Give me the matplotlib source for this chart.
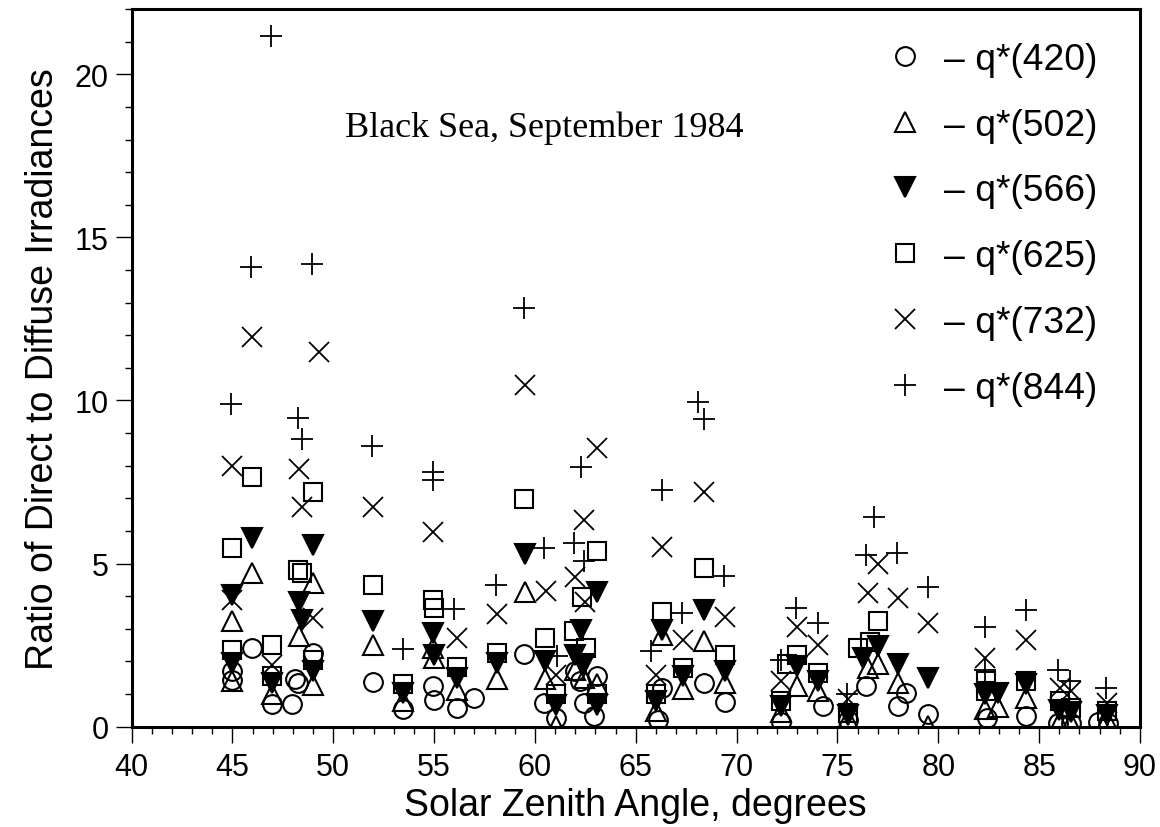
import matplotlib
matplotlib.use("Agg")
import matplotlib.pyplot as plt
from matplotlib.ticker import MultipleLocator

# ---- data (solar zenith angle, ratio) ----
x420 = [44.97, 44.97, 45.96, 46.95, 47.95, 48.11, 48.23, 48.97, 51.97, 53.46, 54.93, 54.98,
        56.11, 56.97, 59.45, 60.45, 61.03, 61.97, 62.24, 62.43, 63.07, 62.93, 66.08, 66.28,
        68.40, 69.44, 72.21, 74.28, 75.50, 76.43, 78.00, 78.42, 79.49, 82.44, 84.34, 85.95,
        86.60, 87.94, 88.40]
y420 = [1.70, 1.42, 2.42, 0.70, 0.70, 1.45, 1.35, 2.26, 1.37, 0.53, 1.24, 0.81,
        0.58, 0.87, 2.23, 0.73, 0.28, 1.70, 1.40, 0.73, 1.54, 0.32, 0.22, 1.19,
        1.35, 0.76, 0.15, 0.63, 0.20, 1.24, 0.63, 1.04, 0.38, 0.28, 0.32, 0.12,
        0.10, 0.15, 0.12]

x502 = [44.97, 44.97, 45.96, 46.95, 48.28, 48.97, 48.97, 51.97, 53.46, 54.93, 54.98,
        56.11, 58.13, 59.50, 60.50, 61.03, 61.97, 62.43, 63.07, 66.00, 66.28, 67.32,
        68.40, 69.44, 72.21, 72.99, 74.03, 75.50, 76.51, 77.01, 78.00, 79.49, 82.34,
        82.97, 84.34, 86.00, 86.60, 88.35]
y502 = [3.25, 1.40, 4.71, 0.99, 2.77, 4.40, 1.29, 2.52, 0.78, 2.42, 2.10,
        1.14, 1.45, 4.14, 1.45, 0.02, 1.75, 1.50, 1.30, 0.48, 2.82, 1.16,
        2.64, 1.35, 0.45, 1.24, 1.09, 0.25, 1.80, 1.91, 1.35, 0.02, 0.53,
        0.60, 0.89, 0.10, 0.10, 0.20]

x566 = [44.97, 44.97, 45.96, 46.95, 48.28, 48.47, 48.97, 48.97, 51.97, 53.46, 54.93, 54.98,
        56.11, 58.13, 59.50, 60.50, 61.03, 61.97, 62.27, 62.43, 63.10, 63.07, 66.00, 66.28,
        67.32, 68.40, 69.44, 72.21, 72.99, 74.03, 75.50, 76.26, 77.01, 78.00, 79.49, 82.34,
        82.97, 84.34, 86.00, 86.60, 88.35]
y566 = [4.05, 1.96, 5.80, 1.35, 3.83, 3.28, 5.58, 1.70, 3.25, 1.04, 2.87, 2.21,
        1.50, 1.96, 5.29, 2.01, 0.68, 2.21, 2.98, 1.91, 4.14, 0.68, 0.78, 2.98,
        1.54, 3.59, 1.72, 0.63, 1.85, 1.39, 0.35, 2.10, 2.46, 1.91, 1.50, 0.99,
        1.04, 1.30, 0.50, 0.45, 0.35]

x625 = [44.97, 44.97, 45.99, 46.95, 46.95, 48.23, 48.47, 48.97, 48.97, 51.97, 53.46, 54.93,
        54.98, 56.11, 58.13, 59.47, 60.50, 61.03, 61.94, 62.32, 62.52, 63.07, 63.07, 66.00,
        66.28, 67.32, 68.40, 69.44, 72.21, 72.50, 73.00, 74.03, 75.52, 76.02, 76.59, 77.01,
        82.39, 82.39, 84.34, 86.03, 86.58, 88.35]
y625 = [5.49, 2.36, 7.67, 2.52, 1.54, 4.79, 4.71, 7.20, 2.06, 4.35, 1.31, 3.89,
        3.63, 1.82, 2.26, 6.98, 2.72, 0.99, 2.92, 3.99, 2.42, 5.39, 0.99, 0.99,
        3.53, 1.80, 4.86, 2.21, 0.78, 1.91, 2.21, 1.65, 0.43, 2.42, 2.61, 3.23,
        1.39, 1.10, 1.39, 0.78, 0.58, 0.48]

x732 = [44.97, 44.97, 45.96, 46.95, 48.28, 48.47, 48.97, 49.30, 51.97, 54.93, 56.11, 58.13,
        59.50, 60.53, 61.03, 61.97, 62.43, 62.48, 63.10, 66.00, 66.28, 67.32, 68.40, 69.44,
        72.21, 72.99, 74.03, 75.50, 76.51, 77.01, 78.00, 79.49, 82.34, 84.34, 86.03, 86.60,
        88.35]
y732 = [7.99, 3.89, 11.95, 1.90, 7.89, 6.73, 3.33, 11.49, 6.75, 5.98, 2.72, 3.47,
        10.47, 4.17, 1.60, 4.60, 6.33, 3.82, 8.53, 1.60, 5.50, 2.67, 7.20, 3.35,
        1.39, 3.07, 2.52, 0.85, 4.10, 5.00, 3.96, 3.18, 2.10, 2.67, 1.19, 1.10,
        0.73]

x844 = [44.92, 45.91, 46.92, 48.23, 48.46, 48.94, 51.94, 53.46, 54.93, 54.93, 55.98, 58.05,
        59.47, 60.45, 61.11, 61.94, 62.27, 62.43, 65.75, 66.28, 67.27, 68.07, 68.37, 69.39,
        72.21, 72.95, 74.03, 75.48, 76.43, 76.81, 77.97, 79.49, 82.31, 82.34, 84.34, 85.95,
        86.53, 88.32]
y844 = [9.88, 14.09, 21.17, 9.45, 8.82, 14.19, 8.59, 2.39, 7.82, 7.56, 3.60, 4.35,
        12.84, 5.47, 2.16, 5.63, 7.97, 5.07, 2.31, 7.26, 3.49, 9.96, 9.42, 4.63,
        2.06, 3.64, 3.18, 0.99, 5.27, 6.44, 5.34, 4.28, 3.07, 1.75, 3.59, 1.75,
        1.39, 1.19]

labels = ["\u2013 q*(420)", "\u2013 q*(502)", "\u2013 q*(566)",
          "\u2013 q*(625)", "\u2013 q*(732)", "\u2013 q*(844)"]
annotation = "Black Sea, September 1984"
xlabel = "Solar Zenith Angle, degrees"
ylabel = "Ratio of Direct to Diffuse Irradiances"

plt.rcParams['font.family'] = ['Liberation Sans', 'DejaVu Sans']

fig = plt.figure(figsize=(11.6, 8.28), dpi=100)
ax = fig.add_axes([0.1135, 0.1211, 0.8692, 0.8668])

mew = 1.5
styles = [
    dict(marker='o', ms=13.5, mfc='none', mec='black', mew=mew),
    dict(marker='^', ms=14, mfc='none', mec='black', mew=mew),
    dict(marker='v', ms=14, mfc='black', mec='black', mew=mew),
    dict(marker='s', ms=13, mfc='none', mec='black', mew=mew),
    dict(marker='x', ms=14, mfc='none', mec='black', mew=1.3),
    dict(marker='+', ms=16, mfc='none', mec='black', mew=1.3),
]
series = [(x420, y420), (x502, y502), (x566, y566), (x625, y625), (x732, y732), (x844, y844)]
handles = []
for (xs, ys), st, lab in zip(series, styles, labels):
    h, = ax.plot(xs, ys, linestyle='none', label=lab, **st)
    handles.append(h)

ax.set_xlim(40, 90)
ax.set_ylim(0, 22)
ax.xaxis.set_major_locator(MultipleLocator(5))
ax.xaxis.set_minor_locator(MultipleLocator(1))
ax.yaxis.set_major_locator(MultipleLocator(5))
ax.yaxis.set_minor_locator(MultipleLocator(1))
ax.tick_params(which='major', direction='out', length=11.5, width=1.0, labelsize=22,
               top=False, right=False)
ax.tick_params(axis='x', which='major', pad=7)
ax.tick_params(axis='y', which='major', pad=5)
ax.tick_params(which='minor', direction='out', length=5, width=1.0, top=False, right=False)
for sp in ax.spines.values():
    sp.set_linewidth(2.2)

ax.set_xlabel(xlabel, fontsize=27, labelpad=3.5)
ax.set_ylabel(ylabel, fontsize=27, labelpad=10)

ax.text(0.212, 0.823, annotation, transform=ax.transAxes, fontsize=26,
        family=['Liberation Serif', 'DejaVu Serif'], ha='left', va='baseline')

leg = ax.legend(handles=handles, loc='upper right', frameon=False, fontsize=26.8,
                handlelength=0.9, handletextpad=0.6, labelspacing=0.83,
                borderpad=0, borderaxespad=0, numpoints=1,
                bbox_to_anchor=(0.9574, 0.9545))

fig.savefig("out.png", dpi=100)
